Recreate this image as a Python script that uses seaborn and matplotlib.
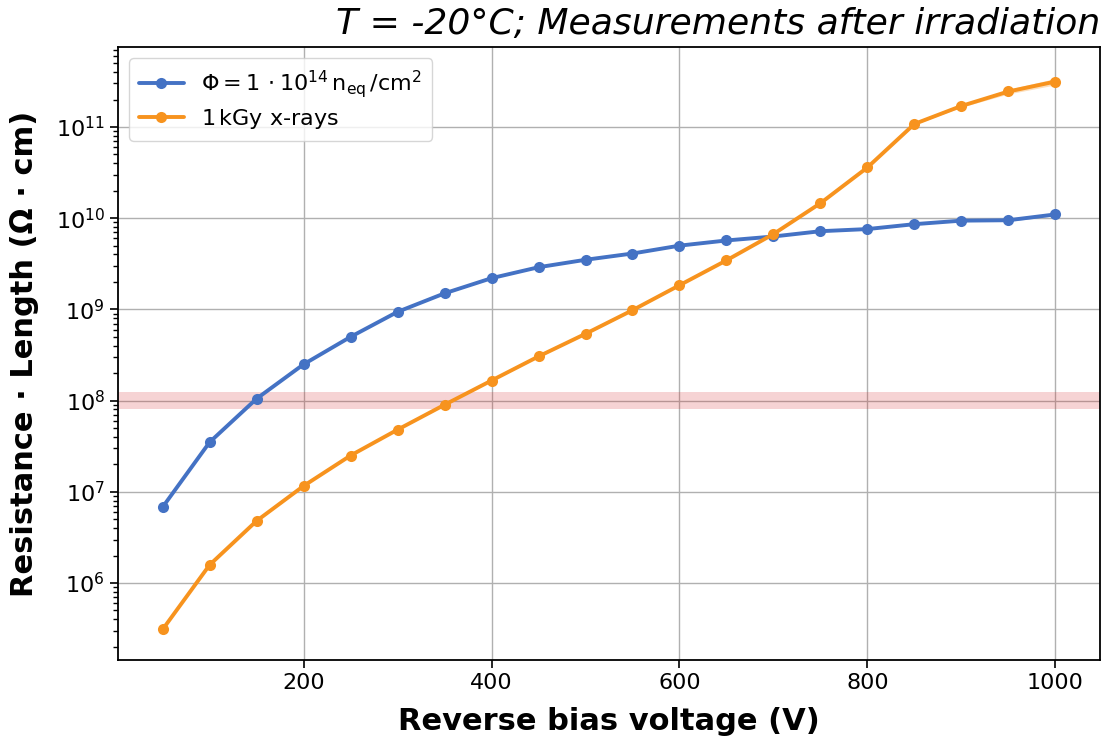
import numpy as np
import pandas as pd
import matplotlib
matplotlib.use("Agg")
import matplotlib.pyplot as plt
import seaborn as sns

voltage = [50, 100, 150, 200, 250, 300, 350, 400, 450, 500,
           550, 600, 650, 700, 750, 800, 850, 900, 950, 1000]
res_neutron = [6.8e6, 3.5e7, 1.05e8, 2.5e8, 5.0e8, 9.4e8, 1.5e9, 2.2e9, 2.9e9, 3.5e9,
               4.1e9, 5.0e9, 5.7e9, 6.3e9, 7.2e9, 7.6e9, 8.6e9, 9.4e9, 9.5e9, 1.1e10]
res_xray = [3.1e5, 1.58e6, 4.8e6, 1.16e7, 2.5e7, 4.8e7, 9.0e7, 1.66e8, 3.05e8, 5.4e8,
            9.8e8, 1.84e9, 3.45e9, 6.7e9, 1.46e10, 3.6e10, 1.08e11, 1.7e11, 2.45e11, 3.15e11]
# relative uncertainty (band half-width, fraction)
err_neutron = [0, 0, 0, 0, 0, 0, 0, 0, 0, 0, 0, 0, 0, 0, 0, 0, 0, 0.02, 0.03, 0.03]
err_xray = [0, 0, 0, 0, 0, 0, 0, 0, 0, 0, 0, 0, 0, 0, 0, 0, 0.02, 0.03, 0.06, 0.08]
threshold_band = (8.0e7, 1.25e8)

x_ticks = [200, 400, 600, 800, 1000]
y_ticks = [1e6, 1e7, 1e8, 1e9, 1e10, 1e11]
labels = [r"$\Phi = 1\,\cdot 10^{14}\,\mathrm{n_{eq}}\,/\mathrm{cm}^2$", r"1$\,$kGy x-rays"]
colors = ["#4472c4", "#f7931e"]
title = "T = -20°C; Measurements after irradiation"
xlabel = "Reverse bias voltage (V)"
ylabel = "Resistance · Length (Ω · cm)"

sns.set_style("ticks", rc={"text.color": "black", "axes.labelcolor": "black",
                           "xtick.color": "black", "ytick.color": "black",
                           "axes.edgecolor": "black"})
plt.rcParams["font.family"] = ["DejaVu Sans"]

fig = plt.figure(figsize=(11.03, 7.40), dpi=100)
ax = fig.add_axes([118 / 1103, 1 - 660 / 740, (1100 - 118) / 1103, (660 - 47) / 740])

ax.axhspan(threshold_band[0], threshold_band[1], color="tab:red", alpha=0.2, lw=0, zorder=1)

df = pd.DataFrame({
    "V": voltage * 2,
    "R": res_neutron + res_xray,
    "series": [labels[0]] * len(voltage) + [labels[1]] * len(voltage),
})
sns.lineplot(data=df, x="V", y="R", hue="series", palette=colors, marker="o",
             markersize=8, markeredgewidth=0, linewidth=2.8, ax=ax, zorder=3)

for vals, errs, c in [(res_neutron, err_neutron, colors[0]), (res_xray, err_xray, colors[1])]:
    v = np.array(vals)
    e = np.array(errs)
    ax.fill_between(voltage, v * (1 - e), v * (1 + e), color=c, alpha=0.3, lw=0, zorder=2)

ax.set_yscale("log")
ax.set_xlim(2.5, 1047.5)
ax.set_ylim(10 ** 5.156, 10 ** 11.877)
ax.set_xticks(x_ticks)
ax.set_yticks(y_ticks)
ax.grid(True, which="major", color="#b0b0b0", linewidth=1.0, zorder=0)
ax.set_axisbelow(True)
for s in ax.spines.values():
    s.set_linewidth(1.3)
    s.set_color("black")
ax.tick_params(axis="both", which="major", labelsize=16, length=6, width=1.2, direction="out")
ax.tick_params(axis="y", which="minor", length=3.5, width=1.0, left=True)
ax.set_xlabel(xlabel, fontsize=22, fontweight="bold", labelpad=10)
ax.set_ylabel(ylabel, fontsize=22, fontweight="bold", labelpad=12)
ax.set_title(title, loc="right", fontsize=26, style="italic", pad=9)

leg = ax.legend(loc="upper left", fontsize=16, frameon=True, framealpha=0.8,
                edgecolor="#cccccc", fancybox=True, borderpad=0.45, labelspacing=0.3,
                title=None)
for line in leg.get_lines():
    line.set_linewidth(2.8)

fig.savefig("out.png", dpi=100)
